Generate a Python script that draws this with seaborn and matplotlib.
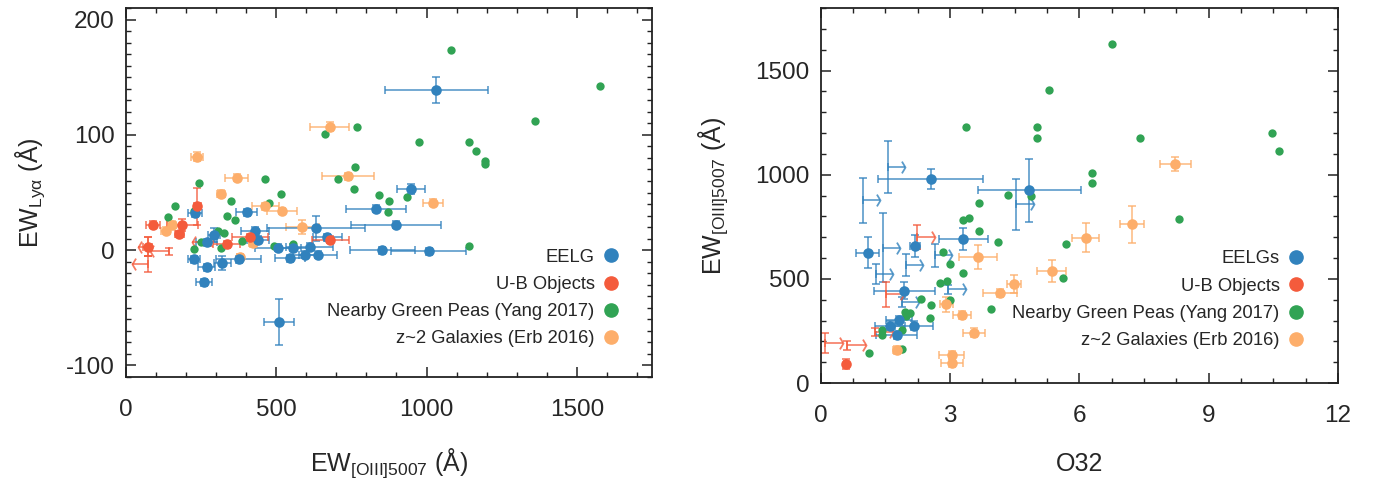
import matplotlib
matplotlib.use("Agg")
import matplotlib.pyplot as plt
from matplotlib.lines import Line2D
from matplotlib.path import Path
from matplotlib.ticker import MultipleLocator
import seaborn as sns

# colours
BLUE = "#3182bd"
RED = "#f45b3c"
GREEN = "#31a354"
ORANGE = "#fdae6b"

# ---- left panel: EW[OIII]5007 vs EW(Lya) ----
l_eelg_x = [1032, 949, 833, 899, 631, 429, 401, 229, 293, 268, 440, 506, 556, 611,
            595, 639, 547, 670, 852, 1007, 226, 268, 321, 375, 260, 508]
l_eelg_y = [139, 53, 36, 22, 19, 17, 33, 32, 13, 7, 9, 2, 2, 3,
            -4, -4, -7, 11, 0, -1, -8, -15, -11, -8, -28, -62]
l_eelg_xerr = [171, 46, 100, 150, 163, 47, 36, 24, 20, 35, 36, 77, 50, 78,
               40, 64, 50, 49, 108, 125, 21, 28, 28, 75, 27, 50]
l_eelg_yerr = [11, 4, 3, 3, 11, 3, 3, 3, 6, 3, 3, 3, 3, 3,
               3, 3, 3, 3, 3, 3, 3, 3, 6, 3, 3, 20]

l_ub_x = [237, 91, 188, 177, 72, 335, 412, 680]
l_ub_y = [38, 22, 22, 14, 3, 5, 11, 9]
l_ub_xerr = [12, 23, 53, 15, 15, 44, 59, 61]
l_ub_yerr = [16, 3, 5, 3, 8, 3, 3, 3]
# upper limits on EW[OIII] (arrows to the left)
l_ublim_x = [74, 144, 275, 72]
l_ublim_y = [-12, -1, 7, 3]
l_ublim_len = [55, 64, 54, 31]
l_ublim_yerr = [7, 3, 3, 8]

l_gp_x = [1080, 1578, 1362, 770, 661, 974, 1140, 1165, 1195, 1195, 763, 705, 462,
          758, 515, 243, 349, 163, 140, 842, 875, 935, 871, 476, 337, 364, 404,
          227, 307, 326, 248, 226, 316, 386, 492, 554, 1140]
l_gp_y = [174, 142, 112, 107, 101, 94, 94, 86, 77, 75, 72, 62, 62,
          53, 49, 58, 43, 38, 29, 48, 43, 46, 33, 41, 30, 26, 33,
          34, 17, 15, 7, 1, 2, 8, 4, 5, 4]

l_z2_x = [678, 237, 368, 739, 316, 464, 520, 1021, 587, 132, 152, 379, 421]
l_z2_y = [107, 81, 63, 64, 49, 38, 34, 41, 20, 17, 22, -6, 6]
l_z2_xerr = [65, 20, 37, 86, 12, 44, 50, 33, 55, 15, 15, 10, 12]
l_z2_yerr = [4, 4, 3, 3, 3, 3, 3, 3, 6, 3, 3, 3, 3]

# ---- right panel: O32 vs EW[OIII]5007 ----
r_eelg_x = [2.55, 1.09, 2.19, 3.31, 1.94, 1.82, 1.61, 2.17, 1.76, 4.84]
r_eelg_y = [977, 626, 658, 690, 444, 301, 276, 276, 232, 925]
r_eelg_xerr = [1.22, 0.27, 0.12, 0.56, 0.71, 0.30, 0.35, 0.44, 0.48, 1.19]
r_eelg_yerr = [48, 73, 54, 52, 42, 20, 20, 20, 20, 152]
# lower limits on O32 (arrows to the right)
r_eelglim_x = [1.57, 0.97, 1.45, 2.65, 1.98, 1.28, 2.96, 1.88, 4.54]
r_eelglim_y = [1037, 877, 650, 613, 565, 525, 450, 389, 857]
r_eelglim_len = [0.39, 0.40, 0.40, 0.40, 0.40, 0.40, 0.42, 0.40, 0.40]
r_eelglim_yerr = [125, 109, 164, 54, 52, 48, 22, 24, 123]

r_ub_x = [0.59]
r_ub_y = [93]
r_ub_xerr = [0.05]
r_ub_yerr = [24]
r_ublim_x = [0.10, 0.62, 1.26, 1.51, 2.24]
r_ublim_y = [194, 181, 245, 426, 701]
r_ublim_len = [0.42, 0.42, 0.42, 0.42, 0.42]
r_ublim_yerr = [48, 21, 20, 59, 56]

r_gp_x = [6.75, 7.40, 10.48, 10.63, 8.31, 3.36, 5.02, 5.02, 5.30, 6.29, 6.29, 4.34,
          4.87, 3.67, 3.29, 3.44, 3.67, 4.12, 5.69, 5.61, 2.84, 3.00, 3.29, 2.77,
          2.92, 3.00, 2.33, 2.55, 3.96, 2.53, 1.95, 2.07, 1.98, 1.88, 1.42, 1.42,
          1.13, 1.88]
r_gp_y = [1627, 1174, 1198, 1114, 785, 1230, 1230, 1174, 1405, 1006, 962, 901,
          897, 866, 781, 793, 729, 677, 665, 506, 629, 570, 530, 480,
          488, 397, 402, 376, 357, 314, 341, 338, 320, 253, 253, 229,
          144, 165]

r_z2_x = [8.23, 7.22, 6.15, 5.36, 4.49, 4.16, 3.65, 2.91, 3.27, 3.56, 1.78, 3.04, 3.04]
r_z2_y = [1050, 761, 698, 538, 477, 432, 605, 378, 325, 242, 157, 133, 96]
r_z2_xerr = [0.37, 0.28, 0.31, 0.34, 0.16, 0.40, 0.44, 0.15, 0.21, 0.25, 0.10, 0.29, 0.26]
r_z2_yerr = [34, 89, 68, 53, 43, 20, 56, 36, 20, 20, 20, 20, 20]

left_labels = ["EELG", "U-B Objects", "Nearby Green Peas (Yang 2017)", "z~2 Galaxies (Erb 2016)"]
right_labels = ["EELGs", "U-B Objects", "Nearby Green Peas (Yang 2017)", "z~2 Galaxies (Erb 2016)"]

sns.set_style("ticks")
plt.rcParams["font.family"] = ["Liberation Sans", "DejaVu Sans"]
plt.rcParams["mathtext.fontset"] = "custom"
plt.rcParams["mathtext.rm"] = "Liberation Sans"
plt.rcParams["mathtext.it"] = "Liberation Sans:italic"
plt.rcParams["axes.unicode_minus"] = False

EB = dict(fmt="none", elinewidth=1.2, capsize=2.6, capthick=1.2, alpha=0.8, zorder=2)

# open chevron arrow heads (tip at the marker origin)
CHEVRON_RIGHT = Path([(-0.6, 1.0), (0.0, 0.0), (-0.6, -1.0)],
                     [Path.MOVETO, Path.LINETO, Path.LINETO])
CHEVRON_LEFT = Path([(0.6, 1.0), (0.0, 0.0), (0.6, -1.0)],
                    [Path.MOVETO, Path.LINETO, Path.LINETO])


def draw_points(ax, x, y, xerr, yerr, color, size=58):
    ax.errorbar(x, y, xerr=xerr, yerr=yerr, ecolor=color, **EB)
    sns.scatterplot(x=x, y=y, color=color, s=size, linewidth=0, ax=ax, zorder=3)


def draw_limits(ax, x, y, length, yerr, color, to_left):
    ax.errorbar(x, y, yerr=yerr, ecolor=color, **EB)
    eb = ax.errorbar(x, y, xerr=length, xuplims=to_left, xlolims=not to_left,
                     ecolor=color, **EB)
    head = CHEVRON_LEFT if to_left else CHEVRON_RIGHT
    for cl in eb[1]:
        if cl.get_marker() not in ("|", "_"):
            cl.set_marker(head)
            cl.set_markersize(8.5)
            cl.set_markerfacecolor("none")
            cl.set_markeredgecolor(color)
            cl.set_markeredgewidth(1.3)


def style_axes(ax, xmaj, xmin, ymaj, ymin):
    ax.xaxis.set_major_locator(MultipleLocator(xmaj))
    ax.xaxis.set_minor_locator(MultipleLocator(xmin))
    ax.yaxis.set_major_locator(MultipleLocator(ymaj))
    ax.yaxis.set_minor_locator(MultipleLocator(ymin))
    ax.tick_params(which="both", direction="in", top=True, right=True, color="#222222")
    ax.tick_params(which="major", length=7, width=1.1, labelsize=17.5)
    ax.tick_params(axis="x", which="major", pad=16)
    ax.tick_params(axis="y", which="major", pad=8)
    ax.tick_params(which="minor", length=3.6, width=1.0)
    for s in ax.spines.values():
        s.set_linewidth(1.3)
        s.set_color("#222222")


def add_legend(ax, labels, anchor):
    colors = [BLUE, RED, GREEN, ORANGE]
    handles = [Line2D([], [], marker="o", linestyle="none", color=c, markersize=9.5)
               for c in colors]
    ax.legend(handles, labels, loc="lower right", bbox_to_anchor=anchor,
              frameon=False, markerfirst=False, fontsize=13.2, handlelength=1.0,
              handletextpad=0.4, labelspacing=0.56, borderpad=0, borderaxespad=0)


fig = plt.figure(figsize=(13.74, 4.79), dpi=100)
ax1 = fig.add_axes([0.0917, 0.2129, 0.3828, 0.7704])
ax2 = fig.add_axes([0.5973, 0.2004, 0.3765, 0.7829])

# left panel
sns.scatterplot(x=l_gp_x, y=l_gp_y, color=GREEN, s=36, linewidth=0, ax=ax1, zorder=3)
draw_points(ax1, l_z2_x, l_z2_y, l_z2_xerr, l_z2_yerr, ORANGE)
draw_points(ax1, l_eelg_x, l_eelg_y, l_eelg_xerr, l_eelg_yerr, BLUE)
draw_points(ax1, l_ub_x, l_ub_y, l_ub_xerr, l_ub_yerr, RED)
draw_limits(ax1, l_ublim_x, l_ublim_y, l_ublim_len, l_ublim_yerr, RED, True)
ax1.set_xlim(0, 1750)
ax1.set_ylim(-110, 210)
style_axes(ax1, 500, 100, 100, 10)
ax1.set_xlabel("EW$_{\\rm [OIII]5007}$ (Å)", fontsize=18, labelpad=18)
ax1.set_ylabel("EW$_{\\rm Ly\\alpha}$ (Å)", fontsize=18, labelpad=14)
add_legend(ax1, left_labels, (0.94, 0.08))

# right panel
sns.scatterplot(x=r_gp_x, y=r_gp_y, color=GREEN, s=36, linewidth=0, ax=ax2, zorder=3)
draw_points(ax2, r_z2_x, r_z2_y, r_z2_xerr, r_z2_yerr, ORANGE)
draw_points(ax2, r_eelg_x, r_eelg_y, r_eelg_xerr, r_eelg_yerr, BLUE)
draw_limits(ax2, r_eelglim_x, r_eelglim_y, r_eelglim_len, r_eelglim_yerr, BLUE, False)
draw_points(ax2, r_ub_x, r_ub_y, r_ub_xerr, r_ub_yerr, RED)
draw_limits(ax2, r_ublim_x, r_ublim_y, r_ublim_len, r_ublim_yerr, RED, False)
ax2.set_xlim(0, 12)
ax2.set_ylim(0, 1800)
style_axes(ax2, 3, 0.75, 500, 100)
ax2.set_xlabel("O32", fontsize=18, labelpad=18)
ax2.set_ylabel("EW$_{\\rm [OIII]5007}$ (Å)", fontsize=18, labelpad=18)
add_legend(ax2, right_labels, (0.937, 0.09))

fig.savefig("out.png", dpi=100)
